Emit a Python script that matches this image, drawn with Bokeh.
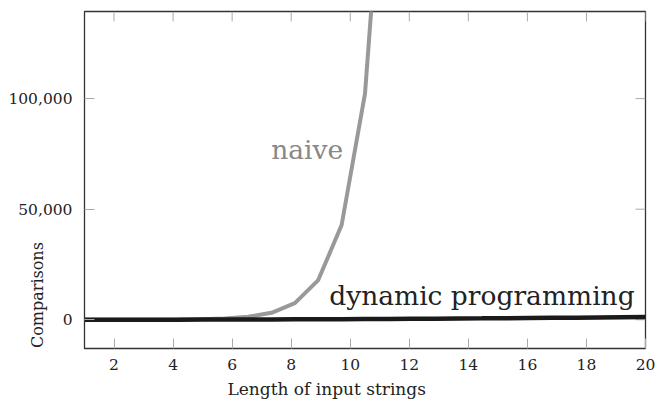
import math
from bokeh.plotting import figure
from bokeh.models import (Range1d, FixedTicker, NumeralTickFormatter, Label, Title,
                          LinearAxis)
from bokeh.embed import file_html
from bokeh.resources import INLINE

# ---- data ----
lengths = [1, 1.7917, 2.5833, 3.375, 4.1667, 4.9583, 5.75, 6.5417, 7.3333, 8.125,
           8.9167, 9.7083, 10.5, 11.2917, 12.0833, 12.875, 13.6667, 14.4583, 15.25,
           16.0417, 16.8333, 17.625, 18.4167, 19.2083, 20]
naive = [3, 7, 17, 41, 97, 232, 554, 1322, 3154, 7525, 17955, 42845, 102276, 244040]
dynamic = [3, 10, 20, 34, 52, 74, 99, 128, 161, 198, 239, 283, 331, 383, 438, 497,
           560, 627, 698, 772, 850, 932, 1018, 1107, 1200]
x_ticks = [2, 4, 6, 8, 10, 12, 14, 16, 18, 20]
y_ticks = [0, 50000, 100000]
x_min, x_max = 1, 20
y_min, y_max = -13000, 139400

FONT = "DejaVu Serif"
TICK_GREY = "#aaaaaa"

p = figure(width=657, height=406, output_backend="svg", toolbar_location=None,
           x_range=Range1d(x_min, x_max), y_range=Range1d(y_min, y_max),
           min_border_left=84, min_border_right=12, min_border_top=11,
           min_border_bottom=58)
p.background_fill_color = "white"
p.border_fill_color = None
p.grid.visible = False
p.outline_line_color = "#333333"
p.outline_line_width = 1.3

for ax in (p.xaxis[0], p.yaxis[0]):
    ax.axis_line_color = None
    ax.major_tick_in = 10
    ax.major_tick_out = 0
    ax.minor_tick_line_color = None
    ax.major_tick_line_color = TICK_GREY
    ax.major_label_text_font = FONT
    ax.major_label_text_font_size = "15.5px"
    ax.major_label_text_color = "#222222"
p.xaxis[0].ticker = FixedTicker(ticks=x_ticks)
p.yaxis[0].ticker = FixedTicker(ticks=y_ticks)
p.yaxis[0].formatter = NumeralTickFormatter(format="0,0")
p.xaxis[0].major_label_standoff = 10
p.yaxis[0].major_label_standoff = 12

# x axis title as a below-panel title, offset from the frame's left edge
p.add_layout(Title(text="Length of input strings", align="left", offset=143,
                   text_font=FONT, text_font_size="17px", text_font_style="normal",
                   text_color="#222222", vertical_align="bottom", standoff=8), "below")

# y axis title: a tick-less extra left axis, label anchored at the frame bottom
# (leading no-break spaces push the visible word up so it ends at the bottom edge)
y_title_axis = LinearAxis(ticker=FixedTicker(ticks=[]), axis_line_color=None,
                          major_tick_line_color=None, minor_tick_line_color=None)
y_title_axis.axis_label = "\u00a0" * 21 + "Comparisons"
y_title_axis.axis_label_text_font = FONT
y_title_axis.axis_label_text_font_size = "16px"
y_title_axis.axis_label_text_font_style = "normal"
y_title_axis.axis_label_text_color = "#222222"
y_title_axis.axis_label_align = "start"
y_title_axis.axis_label_standoff = -41
p.add_layout(y_title_axis, "left")

# mirrored inward ticks on the top and right edges
p.ray(x=x_ticks, y=y_max, length=10, length_units="screen", angle=-math.pi / 2,
      line_color=TICK_GREY, line_width=1)
p.ray(x=x_max, y=y_ticks, length=10, length_units="screen", angle=math.pi,
      line_color=TICK_GREY, line_width=1)

# lines
p.line(lengths[:len(naive)], naive, line_color="#999999", line_width=4)
p.line(lengths, dynamic, line_color="#1a1a1a", line_width=4.5)

# in-plot labels
p.add_layout(Label(x=8.54, y=77000, text="naive", text_font=FONT,
                   text_font_size="26.5px", text_color="#888888",
                   text_align="center", text_baseline="alphabetic"))
p.add_layout(Label(x=14.46, y=11000, text="dynamic programming", text_font=FONT,
                   text_font_size="26.5px", text_color="#222222",
                   text_align="center", text_baseline="alphabetic"))

open("out.html", "w").write(file_html(p, INLINE))
